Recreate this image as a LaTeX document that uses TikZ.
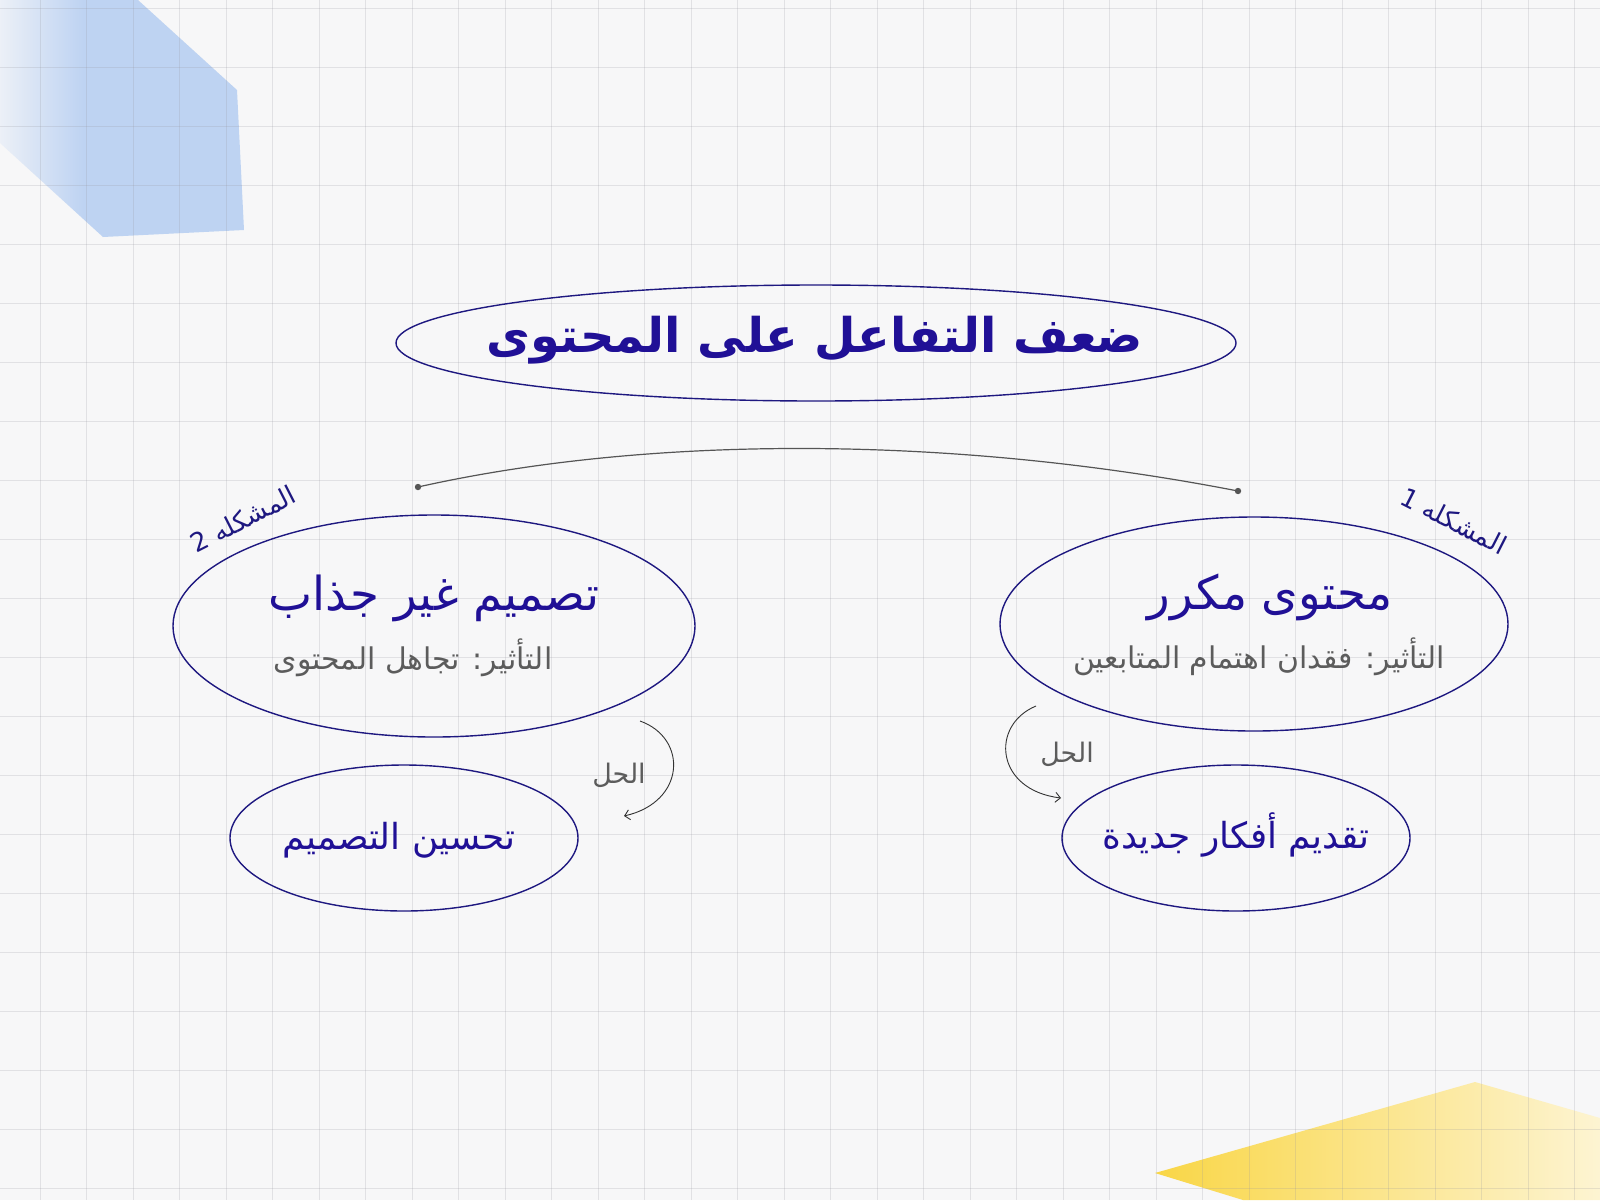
\documentclass[tikz,border=0pt]{standalone}
\usepackage{fontspec}
\usetikzlibrary{shapes.geometric, arrows.meta}
\TeXXeTstate=1
\newfontfamily\arabicfont[Script=Arabic]{DejaVu Sans}
\newcommand\ar[1]{\beginR #1\endR}
\definecolor{navy}{RGB}{30,24,128}
\definecolor{inkblue}{RGB}{32,16,150}
\definecolor{softgray}{RGB}{92,92,92}
\definecolor{linegray}{RGB}{85,85,85}
\definecolor{paper}{RGB}{247,247,248}
\definecolor{gridgray}{RGB}{150,150,158}
\definecolor{bluepatch}{RGB}{190,211,242}
\definecolor{yellowpatch}{RGB}{249,214,70}
\definecolor{yellowpale}{RGB}{253,244,210}
\pgfdeclarehorizontalshading{bluefade}{100bp}{color(0bp)=(paper); color(25bp)=(paper!80!bluepatch); color(42bp)=(bluepatch); color(100bp)=(bluepatch)}

\begin{document}
\begin{tikzpicture}[x=1bp, y=-1bp,
	oval/.style={draw=navy, line width=1.4bp, ellipse, inner sep=0pt},
	topictext/.style={font=\arabicfont\bfseries\fontsize{48}{58}\selectfont, text=inkblue},
	probtext/.style={font=\arabicfont\fontsize{47}{56}\selectfont, text=inkblue},
	effecttext/.style={font=\arabicfont\fontsize{30}{36}\selectfont, text=softgray},
	soltext/.style={font=\arabicfont\fontsize{36}{44}\selectfont, text=inkblue},
	tagtext/.style={font=\arabicfont\fontsize{26}{31}\selectfont, text=navy},
	hinttext/.style={font=\arabicfont\fontsize{27}{32}\selectfont, text=softgray},
	solarrow/.style={draw=black!80, line width=0.9bp, -{Straight Barb[length=5bp, width=10bp]}},
	gridline/.style={draw=gridgray, line width=0.7bp, opacity=0.22}]
	% paper and corner patches
	\fill [paper] (0,0) rectangle (1600,1200);
	\useasboundingbox (0,0) rectangle (1600,1200);
	\shade [shading=bluefade] (0,0) -- (138,0) -- (237,90) -- (244,230) -- (103,237) -- (0,143) -- cycle;
	\shade [left color=yellowpatch, right color=yellowpale] (1155,1173) -- (1475,1082) -- (1600,1118) -- (1600,1200) -- (1243,1200) -- cycle;
	\foreach \gx in {0,...,33} \draw [gridline] ({40+46.5*\gx},0) -- ({40+46.5*\gx},1200);
	\foreach \gy in {0,...,20} \draw [gridline] (0,{8+59*\gy}) -- (1600,{8+59*\gy});

	% topic
	\node [oval, minimum width=840bp, minimum height=116bp] (topic) at (816,343) {};
	\node [topictext] (topictxt) at (815,340) {\ar{ضعف التفاعل على المحتوى}};

	% problems
	\node [oval, minimum width=522bp, minimum height=222bp] (prob2) at (434,626) {};
	\node [probtext] (prob2txt) at (434,598) {\ar{تصميم غير جذاب}};
	\node [effecttext] (prob2eff) at (413,658) {\ar{التأثير: تجاهل المحتوى}};
	\node [tagtext, rotate=27] (prob2tag) at (243,519) {\ar{المشكله 2}};

	\node [oval, minimum width=508bp, minimum height=214bp] (prob1) at (1254,624) {};
	\node [probtext] (prob1txt) at (1270,597) {\ar{محتوى مكرر}};
	\node [effecttext] (prob1eff) at (1259,657) {\ar{التأثير: فقدان اهتمام المتابعين}};
	\node [tagtext, rotate=-27] (prob1tag) at (1454,521) {\ar{المشكله 1}};

	\coordinate (arcL) at (418,487);
	\coordinate (arcR) at (1238,491);
	\draw [linegray, line width=1.2bp] (arcL) .. controls (650,435) and (950,435) .. (arcR);
	\fill [linegray] (arcL) circle (3.2) (arcR) circle (3.2);

	% solutions
	\node [oval, minimum width=348bp, minimum height=146bp] (sol2) at (404,838) {};
	\node [soltext] (sol2txt) at (399,840) {\ar{تحسين التصميم}};
	\node [oval, minimum width=348bp, minimum height=146bp] (sol1) at (1236,838) {};
	\node [soltext] (sol1txt) at (1236,835) {\ar{تقديم أفكار جديدة}};

	\coordinate (sol2from) at (640,721);
	\coordinate (sol2to) at (624,816);
	\draw [solarrow] (sol2from) .. controls +(48,17) and +(62,-14) .. (sol2to);
	\node [hinttext] (sol2hint) at (619,775) {\ar{الحل}};

	\coordinate (sol1from) at (1036,706);
	\coordinate (sol1to) at (1061,798);
	\draw [solarrow] (sol1from) .. controls +(-46,19) and +(-66,-8) .. (sol1to);
	\node [hinttext] (sol1hint) at (1067,754) {\ar{الحل}};
\end{tikzpicture}
\end{document}
